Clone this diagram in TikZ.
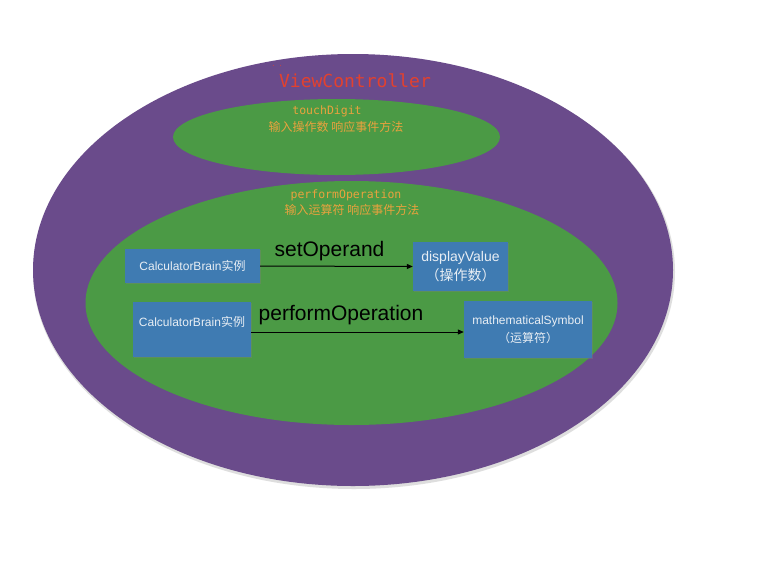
\documentclass[tikz,border=0pt]{standalone}
\usepackage{fontspec}
\setmainfont{Liberation Sans}
\setmonofont{DejaVu Sans Mono}
\newfontfamily\cjk{Noto Sans CJK SC}
\usetikzlibrary{shadows,arrows.meta}
\definecolor{vcpurple}{HTML}{6A4B8B}
\definecolor{vcgreen}{HTML}{4B9A45}
\definecolor{vcblue}{HTML}{3F7BB2}
\definecolor{vcorange}{HTML}{E9A23E}
\definecolor{vcred}{HTML}{E2412F}
\definecolor{boxtext}{HTML}{E8EEF4}
\tikzset{
  bluebox/.style={fill=vcblue, draw=none, text=boxtext, inner sep=0pt, align=center,
    drop shadow={shadow xshift=0.8pt, shadow yshift=-1.2pt, opacity=0.35}},
  codelabel/.style={text=vcorange, font=\ttfamily\fontsize{11.5}{13}\selectfont, inner sep=0pt},
  cjklabel/.style={text=vcorange, font=\cjk\fontsize{12}{14}\selectfont, inner sep=0pt},
  calllabel/.style={text=black, font=\fontsize{21}{24}\selectfont, inner sep=0pt},
  callarrow/.style={draw=black, line width=1pt, -{Triangle[length=6pt,width=5pt]}}
}
\begin{document}
\begin{tikzpicture}[x=1pt,y=-1pt]
\useasboundingbox (0,0) rectangle (775,581);
\fill[white] (0,0) rectangle (775,581);
% outer ellipse
\fill[black!25, opacity=0.5] (354,272) ellipse [x radius=321pt, y radius=217pt];
\fill[vcpurple] (353,270) ellipse [x radius=320pt, y radius=216pt];
% inner ellipses
\fill[vcgreen] (336.5,137) ellipse [x radius=163.5pt, y radius=38pt];
\fill[vcgreen] (351.5,303) ellipse [x radius=266pt, y radius=122pt];
% texts
\node[text=vcred, font=\ttfamily\fontsize{18}{20}\selectfont, inner sep=0pt] (vc) at (355,81) {ViewController};
\node[text=vcred, font=\ttfamily\fontsize{6}{6}\selectfont, inner sep=0pt] (dots) at (277,66) {. .};
\node[codelabel] (td) at (327,111) {touchDigit};
\node[cjklabel] (tdcn) at (336,127) {输入操作数 响应事件方法};
\node[codelabel] (po) at (346,195) {performOperation};
\node[cjklabel] (pocn) at (352,210) {输入运算符 响应事件方法};
% boxes
\node[bluebox, minimum width=135pt, minimum height=34pt, font=\fontsize{12}{14}\selectfont] (cb1) at (192.5,266) {CalculatorBrain{\cjk 实例}};
\node[bluebox, minimum width=95pt, minimum height=49pt, font=\fontsize{14}{19}\selectfont] (dv) at (460.5,266.5) {displayValue\\{\cjk （操作数）}};
\node[bluebox, minimum width=118pt, minimum height=55pt] (cb2) at (192,329.5) {};
\node[text=boxtext, font=\fontsize{12}{14}\selectfont, inner sep=0pt] (cb2t) at (192,322) {CalculatorBrain{\cjk 实例}};
\node[bluebox, minimum width=128pt, minimum height=57pt, font=\fontsize{12}{18}\selectfont] (ms) at (528,329.5) {mathematicalSymbol\\{\cjk （运算符）}};
% arrows
\draw[callarrow] (cb1.east) -- (dv.west);
\coordinate (a2s) at (cb2.east |- 0,332);
\coordinate (a2e) at (ms.west |- 0,332);
\draw[callarrow] (a2s) -- (a2e);
\node[calllabel] (so) at (329.5,251) {setOperand};
\node[calllabel] (pol) at (341,315) {performOperation};
\end{tikzpicture}
\end{document}
